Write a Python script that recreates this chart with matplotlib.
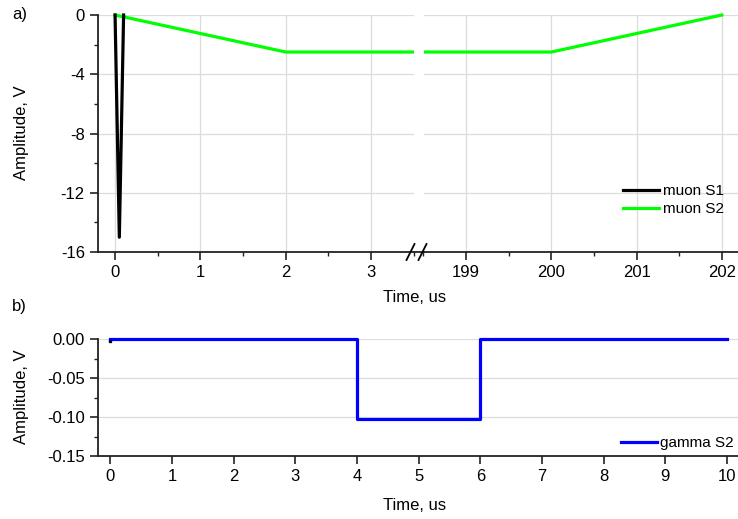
import matplotlib
matplotlib.use("Agg")
import matplotlib.pyplot as plt
from matplotlib.lines import Line2D
from matplotlib.patches import Rectangle
from matplotlib.ticker import MultipleLocator, FormatStrFormatter

plt.rcParams['font.family'] = ['Liberation Sans', 'DejaVu Sans']
plt.rcParams['axes.unicode_minus'] = False

# a) muon pulses (time in us, amplitude in V)
s1_t = [0.0, 0.05, 0.1]
s1_v = [0.0, -15.0, 0.0]
s2_t = [0.0, 2.0, 200.0, 202.0]
s2_v = [0.0, -2.5, -2.5, 0.0]

# b) gamma pulse
g_t = [0.0, 4.0, 4.0, 6.0, 6.0, 10.0]
g_v = [0.0, 0.0, -0.103, -0.103, 0.0, 0.0]

W, H = 738, 519
fig = plt.figure(figsize=(W / 100, H / 100), dpi=100)

def box(x0, y0, x1, y1):
    return [x0 / W, 1 - y1 / H, (x1 - x0) / W, (y1 - y0) / H]

ax1 = fig.add_axes(box(98, 15, 413.7, 252))
ax2 = fig.add_axes(box(423.5, 15, 738, 252))
ax3 = fig.add_axes(box(98, 339, 738, 456))

spine_c = '#222222'
for ax in (ax1, ax2, ax3):
    for s in ('top', 'right'):
        ax.spines[s].set_visible(False)
    for s in ('left', 'bottom'):
        ax.spines[s].set_linewidth(1.3)
        ax.spines[s].set_color(spine_c)
    ax.tick_params(which='major', direction='out', length=6, width=1.2,
                   labelsize=12, pad=3.5, color=spine_c)
    ax.tick_params(which='minor', direction='out', length=3, width=1.0,
                   color=spine_c)
    ax.set_axisbelow(True)

def loose_clip(ax, line):
    # clip left/right only, so traces sitting on 0 are drawn in full
    r = Rectangle((0, -0.05), 1, 1.1, transform=ax.transAxes,
                  facecolor='none', edgecolor='none')
    line.set_clip_path(r)

# top panel, both halves of the broken time axis
for ax in (ax1, ax2):
    l1, = ax.plot(s1_t, s1_v, color='black', lw=2.3, label='muon S1',
                  zorder=3)
    l2, = ax.plot(s2_t, s2_v, color='#00ff00', lw=2.3, label='muon S2',
                  zorder=2)
    loose_clip(ax, l1)
    loose_clip(ax, l2)
    ax.set_ylim(-16, 0)
    ax.grid(True, which='major', color='#dcdcdc', lw=0.9)
    ax.xaxis.set_major_locator(MultipleLocator(1))
    ax.xaxis.set_minor_locator(MultipleLocator(0.5))
    ax.yaxis.set_major_locator(MultipleLocator(4))
    ax.yaxis.set_minor_locator(MultipleLocator(2))

ax1.set_xlim(-0.2, 3.5)
ax2.set_xlim(198.5, 202.19)
ax2.spines['left'].set_visible(False)
ax2.tick_params(axis='y', which='both', left=False, labelleft=False)

# axis break marks
fig.add_artist(Line2D([413.7 / W, 423.5 / W], [1 - 252 / H] * 2,
                      color=spine_c, lw=1.3))
for xc in (410.5, 422.5):
    fig.add_artist(Line2D([(xc - 4) / W, (xc + 4) / W],
                          [1 - 260 / H, 1 - 244 / H], color='black', lw=1.3))

ax2.legend(loc='center left', bbox_to_anchor=(623 / W, 1 - 200 / H),
           bbox_transform=fig.transFigure, frameon=False, fontsize=11,
           handlelength=2.35, handletextpad=0.25, labelspacing=0.25,
           borderpad=0, borderaxespad=0)

# bottom panel
g_line, = ax3.plot(g_t, g_v, color='#0000ff', lw=2.3, label='gamma S2')
loose_clip(ax3, g_line)
ax3.plot([0.0], [-0.002], marker='s', ms=2, color='#000033', lw=0)
ax3.set_xlim(-0.2, 10.18)
ax3.set_ylim(-0.15, 0)
ax3.xaxis.set_major_locator(MultipleLocator(1))
ax3.yaxis.set_major_locator(MultipleLocator(0.05))
ax3.yaxis.set_minor_locator(MultipleLocator(0.025))
ax3.yaxis.set_major_formatter(FormatStrFormatter('%.2f'))
ax3.grid(True, axis='y', which='major', color='#dcdcdc', lw=0.9)
ax3.legend(handles=[g_line], loc='center left',
           bbox_to_anchor=(621 / W, 1 - 443 / H),
           bbox_transform=fig.transFigure, frameon=False, fontsize=11,
           handlelength=2.35, handletextpad=0.2, borderpad=0,
           borderaxespad=0)

# labels
for yc in (133, 397):
    fig.text(22 / W, 1 - yc / H, 'Amplitude, V', rotation=90, ha='center',
             va='center', fontsize=12)
for yc in (298, 505):
    fig.text(415 / W, 1 - yc / H, 'Time, us', ha='center', va='center',
             fontsize=12)
fig.text(12 / W, 1 - 15 / H, 'a)', ha='left', va='center', fontsize=12)
fig.text(12 / W, 1 - 306 / H, 'b)', ha='left', va='center', fontsize=12)

fig.savefig('out.png', dpi=100)
